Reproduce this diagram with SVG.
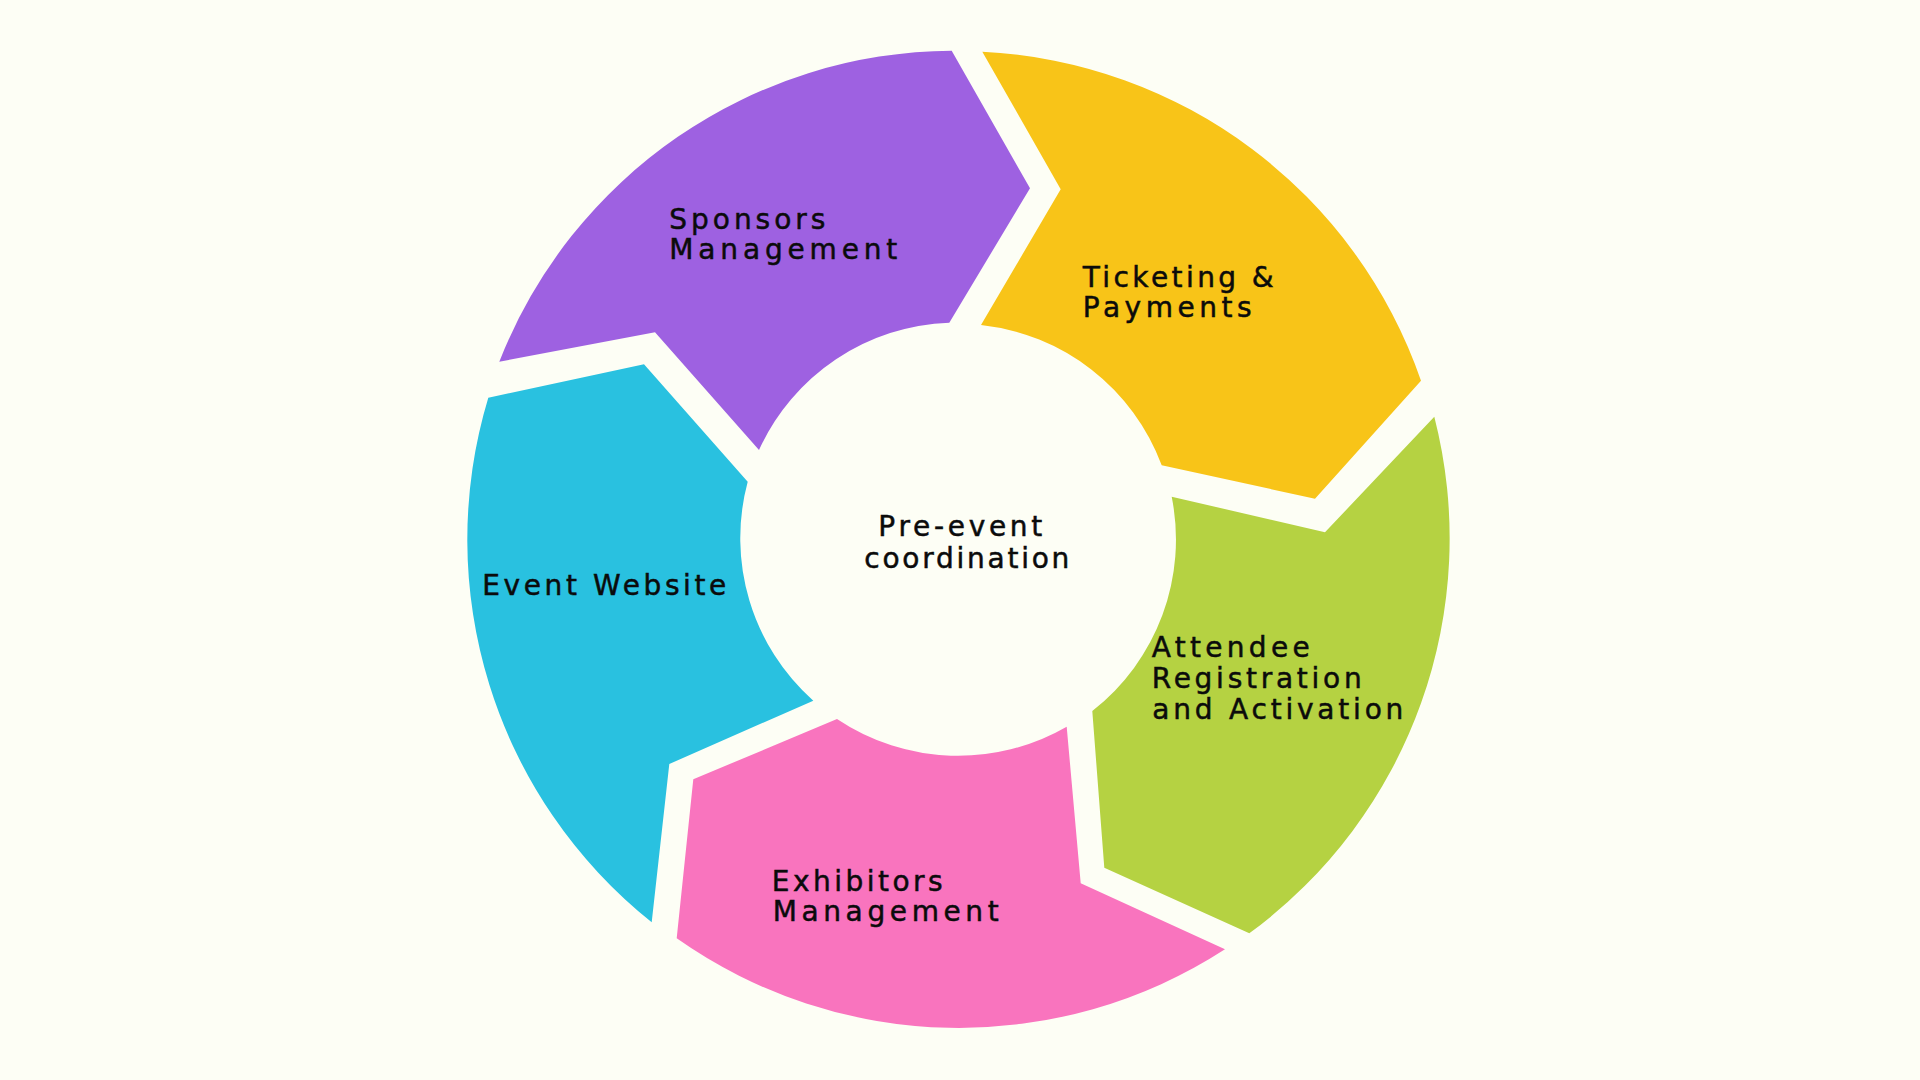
<svg xmlns="http://www.w3.org/2000/svg" width="1920" height="1080" viewBox="0 0 1920 1080">
  <style>
    .lbl { font-family: "DejaVu Sans", "Noto Sans", sans-serif; font-size: 28px; fill: #0b0b0b; stroke: #0b0b0b; stroke-width: 0.5px; }
  </style>
  <rect x="0" y="0" width="1920" height="1080" fill="#FDFEF5"/>

  <g id="sponsors">
    <path d="M 951.7,50.7 L 1030,188.3 L 949.3,322.7 A 217.5 217.5 0 0 0 759,450 L 655,332.3 L 499.3,361.7 A 489.5 489.5 0 0 1 951.7,50.7 Z" fill="#9E61E1"/>
    <text class="lbl"><tspan x="669.3" y="229.3" textLength="156" lengthAdjust="spacing">Sponsors</tspan><tspan x="669.3" y="259.3" textLength="228" lengthAdjust="spacing">Management</tspan></text>
  </g>

  <g id="ticketing">
    <path d="M 982.3,51.7 A 489.5 489.5 0 0 1 1421,380.7 L 1315,498.7 L 1161.7,465.3 A 217.5 217.5 0 0 0 981,325 L 1060.7,189.3 Z" fill="#F8C418"/>
    <text class="lbl"><tspan x="1082.7" y="286.7" textLength="191" lengthAdjust="spacing">Ticketing &amp;</tspan><tspan x="1082.7" y="317.3" textLength="169" lengthAdjust="spacing">Payments</tspan></text>
  </g>

  <g id="attendee">
    <path d="M 1434.3,416.7 A 489.5 489.5 0 0 1 1249.3,933.3 L 1104.3,867.7 L 1092.3,711 A 217.5 217.5 0 0 0 1171.7,496.7 L 1325,532.3 Z" fill="#B5D242"/>
    <text class="lbl"><tspan x="1151.7" y="656.7" textLength="158" lengthAdjust="spacing">Attendee</tspan><tspan x="1151.7" y="688" textLength="210" lengthAdjust="spacing">Registration</tspan><tspan x="1152.3" y="719" textLength="251" lengthAdjust="spacing">and Activation</tspan></text>
  </g>

  <g id="exhibitors">
    <path d="M 1225,949.3 A 489.5 489.5 0 0 1 676.7,938.3 L 693.3,779.3 L 837,719 A 217.5 217.5 0 0 0 1066.7,726.7 L 1080.7,883.3 Z" fill="#F974BE"/>
    <text class="lbl"><tspan x="771.7" y="891" textLength="171" lengthAdjust="spacing">Exhibitors</tspan><tspan x="772.7" y="921" textLength="226" lengthAdjust="spacing">Management</tspan></text>
  </g>

  <g id="website">
    <path d="M 651.7,922.3 A 489.5 489.5 0 0 1 488.3,397.7 L 644,364.3 L 747.7,481.7 A 217.5 217.5 0 0 0 813.3,700.7 L 669.3,764 Z" fill="#29C1E0"/>
    <text class="lbl"><tspan x="482.3" y="595" textLength="244" lengthAdjust="spacing">Event Website</tspan></text>
  </g>

  <g id="center">
    <text class="lbl"><tspan x="878.3" y="535.7" textLength="164" lengthAdjust="spacing">Pre-event</tspan><tspan x="864.3" y="568.3" textLength="205" lengthAdjust="spacing">coordination</tspan></text>
  </g>

  <g id="connectors"/>
</svg>
